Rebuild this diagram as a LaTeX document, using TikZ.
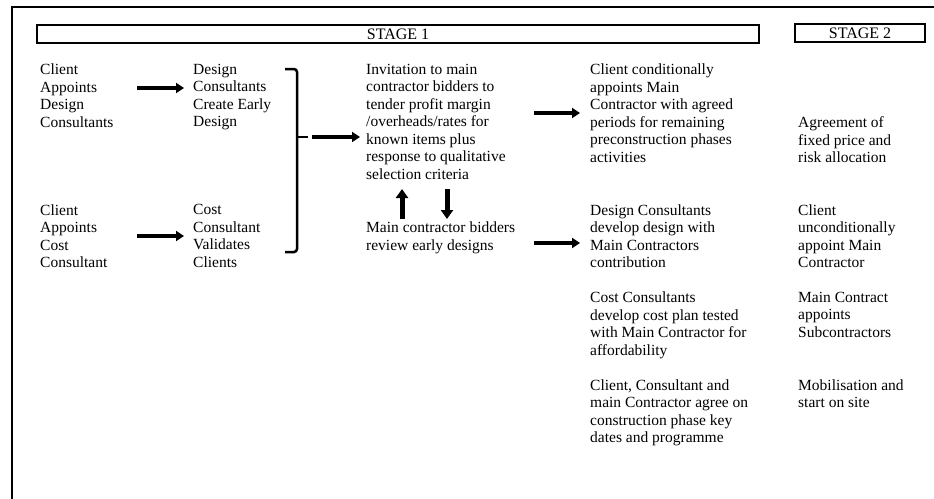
\documentclass[tikz,border=0pt]{standalone}
\usepackage{fontspec}
\setmainfont{Liberation Serif}
\usetikzlibrary{arrows.meta}
\tikzset{
  txt/.style={anchor=north west, align=left, inner sep=0pt, font=\fontsize{15.5}{17.5}\selectfont},
  stagebox/.style={draw=black, line width=1.2pt, inner sep=0pt, minimum height=18pt, font=\fontsize{16}{18}\selectfont},
  harr/.style={line width=4pt, -{Triangle[length=8pt,width=10pt]}},
  varr/.style={line width=5pt, -{Triangle[length=9pt,width=12pt]}},
  brack/.style={line width=2.5pt, rounded corners=3pt},
  frame/.style={line width=2pt}
}
\begin{document}
\begin{tikzpicture}[x=1pt,y=-1pt]
\useasboundingbox (0,0) rectangle (934,498);
% outer frame (clipped)
\draw[frame] (12,510) -- (12,7) -- (950,7);
% stage boxes
\node[stagebox, minimum width=722pt] (s1) at (398,34) {STAGE 1};
\node[stagebox, minimum width=130pt] (s2) at (860,33) {STAGE 2};
% column 1
\node[txt] (c1a) at (40,63.7) {Client\\Appoints\\Design\\Consultants};
\node[txt] (c1b) at (40,204.2) {Client\\Appoints\\Cost\\Consultant};
% column 2
\node[txt] (c2a) at (193,63.7) {Design\\Consultants\\Create Early\\Design};
\node[txt] (c2b) at (193,204.2) {Cost\\Consultant\\Validates\\Clients};
% column 3
\node[txt] (c3a) at (366,63.7) {Invitation to main\\contractor bidders to\\tender profit margin\\/overheads/rates for\\known items plus\\response to qualitative\\selection criteria};
\node[txt] (c3b) at (366,221.7) {Main contractor bidders\\review early designs};
% column 4
\node[txt] (c4a) at (590,63.7) {Client conditionally\\appoints Main\\Contractor with agreed\\periods for remaining\\preconstruction phases\\activities};
\node[txt] (c4b) at (590,204.2) {Design Consultants\\develop design with\\Main Contractors\\contribution};
\node[txt] (c4c) at (590,291.7) {Cost Consultants\\develop cost plan tested\\with Main Contractor for\\affordability};
\node[txt] (c4d) at (590,379.2) {Client, Consultant and\\main Contractor agree on\\construction phase key\\dates and programme};
% column 5
\node[txt] (c5a) at (798,116.7) {Agreement of\\fixed price and\\risk allocation};
\node[txt] (c5b) at (798,204.2) {Client\\unconditionally\\appoint Main\\Contractor};
\node[txt] (c5c) at (798,291.7) {Main Contract\\appoints\\Subcontractors};
\node[txt] (c5d) at (798,379.2) {Mobilisation and\\start on site};
% connector coordinates
\coordinate (a1s) at (137,88);
\coordinate (a1e) at (184,88);
\coordinate (a2s) at (137,236);
\coordinate (a2e) at (184,236);
\coordinate (bt) at (285,69);
\coordinate (bb) at (285,252);
\coordinate (bm) at (297,137);
\coordinate (bx) at (308,137);
\coordinate (a3s) at (312,137);
\coordinate (a3e) at (360,137);
\coordinate (ups) at (402,219);
\coordinate (upe) at (402,189);
\coordinate (dns) at (447,189);
\coordinate (dne) at (447,219);
\coordinate (a4s) at (534,113);
\coordinate (a4e) at (580,113);
\coordinate (a5s) at (534,243);
\coordinate (a5e) at (580,243);
% arrows
\draw[harr] (a1s) -- (a1e);
\draw[harr] (a2s) -- (a2e);
\draw[brack] (bt) -- (297,69) -- (297,252) -- (bb);
\draw[line width=2.5pt] (bm) -- (bx);
\draw[harr] (a3s) -- (a3e);
\draw[varr] (ups) -- (upe);
\draw[varr] (dns) -- (dne);
\draw[harr] (a4s) -- (a4e);
\draw[harr] (a5s) -- (a5e);
\end{tikzpicture}
\end{document}
